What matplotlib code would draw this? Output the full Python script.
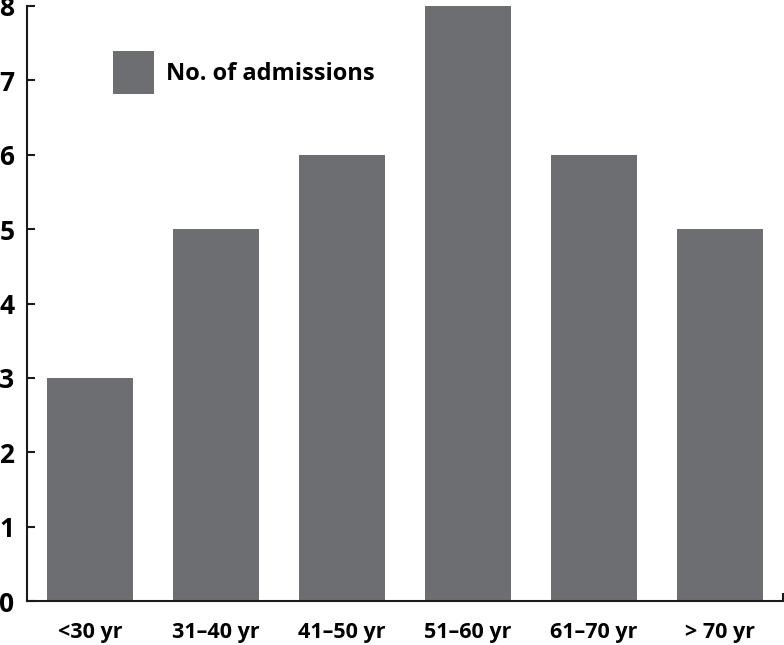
import matplotlib
matplotlib.use('Agg')
import matplotlib.pyplot as plt
from matplotlib.patches import Patch

# datos
grupos = ['<30 yr', '31\u201340 yr', '41\u201350 yr', '51\u201360 yr', '61\u201370 yr', '> 70 yr']
ingresos = [3, 5, 6, 8, 6, 5]
y_ticks = [0, 1, 2, 3, 4, 5, 6, 7, 8]
etiqueta = 'No. of admissions'

color_barra = '#6d6e71'

plt.rcParams['font.family'] = ['Open Sans', 'DejaVu Sans']
plt.rcParams['font.weight'] = 'bold'

fig = plt.figure(figsize=(7.84, 6.45), dpi=100)
ax = fig.add_axes([27 / 784, 44 / 645, 756 / 784, 595 / 645])

x = list(range(len(grupos)))
ax.bar(x, ingresos, width=0.69, color=color_barra)

ax.set_xlim(-0.5, 5.5)
ax.set_ylim(0, 8)

# ejes: solo izquierda y abajo
ax.spines['top'].set_visible(False)
ax.spines['right'].set_visible(False)
for s in ['left', 'bottom']:
    ax.spines[s].set_linewidth(1.5)
    ax.spines[s].set_color('#1a1a1a')

ax.set_yticks(y_ticks)
ax.set_yticklabels([str(v) for v in y_ticks], fontsize=19, fontweight='bold')
ax.tick_params(axis='y', direction='in', length=6, width=1.5, pad=9, color='#1a1a1a')

ax.set_xticks(x)
ax.set_xticklabels(grupos, fontsize=15.5, fontweight='bold')
ax.tick_params(axis='x', which='major', length=0, pad=15)
# pequeña marca al final del eje x
ax.set_xticks([5.5], minor=True)
ax.tick_params(axis='x', which='minor', direction='in', length=6, width=1.5, color='#1a1a1a')

# leyenda: cuadrado gris de ~42 px
handle = Patch(facecolor=color_barra, edgecolor='none', label=etiqueta)
fig.legend(handles=[handle], loc='upper left', bbox_to_anchor=(113 / 784, 1 - 51 / 645),
           frameon=False, borderpad=0, borderaxespad=0, handlelength=1.75, handleheight=2.4,
           handletextpad=0.5, prop={'size': 17, 'weight': 'bold'})

fig.savefig('out.png', dpi=100)
